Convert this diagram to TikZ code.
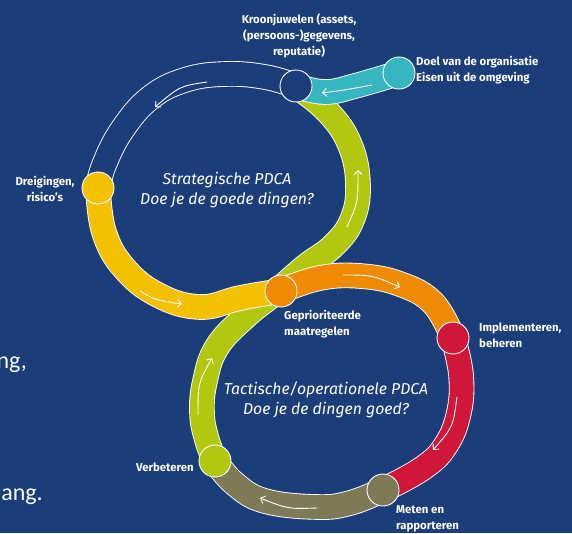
\documentclass[tikz,border=0pt]{standalone}
\usepackage{fontspec}
\setmainfont{Fira Sans}
\newfontfamily\carl{Carlito}
\usetikzlibrary{arrows.meta}
\definecolor{navy}{RGB}{27,62,123}
\definecolor{cyel}{RGB}{245,192,0}
\definecolor{clime}{RGB}{178,200,14}
\definecolor{cteal}{RGB}{54,182,192}
\definecolor{corange}{RGB}{240,138,0}
\definecolor{cred}{RGB}{208,23,58}
\definecolor{colive}{RGB}{126,122,88}
\newcommand\pdcaband[2]{\draw[white,line width=25.6pt] #2; \draw[#1,line width=23.8pt] #2;}
\begin{document}
\begin{tikzpicture}[x=1pt,y=-1pt,
  lab/.style={text=white, font=\fontsize{11.4}{16}\selectfont\bfseries, inner sep=0pt},
  pdca/.style={text=white, font=\fontsize{15.8}{20}\selectfont\itshape, align=center, inner sep=0pt},
  dot/.style={circle, draw=white, line width=0.9pt, minimum size=32pt, inner sep=0pt},
  flow/.style={draw=white, line width=0.9pt, -{Straight Barb[length=4pt,width=8pt]}},
  bg/.style={text=white, font=\carl\fontsize{24}{28}\selectfont, inner sep=0pt}
]
\fill[navy] (0,0) rectangle (572,533);
\useasboundingbox (0,0) rectangle (572,533);

\coordinate (kroon) at (296,86);
\coordinate (doel) at (399,73);
\coordinate (drei) at (98,188);
\coordinate (gepr) at (281,291);
\coordinate (impl) at (453,338);
\coordinate (meten) at (383,490);
\coordinate (verb) at (215,461);

% white outline band (kroon -> drei)
\pdcaband{navy}{plot[smooth,tension=0.7] coordinates {(kroon) (265,77) (225,74) (185,80) (150,98) (122,130) (104,165) (drei)}}
% green S band
\pdcaband{clime}{plot[smooth,tension=0.7] coordinates {(kroon) (328,112) (350,145) (358,185) (352,220) (333,246) (306,266) (276,292) (245,317) (217,347) (205,381) (202,413) (207,440) (verb)}}
% teal band
\pdcaband{cteal}{plot[smooth,tension=0.7] coordinates {(kroon) (325,92) (355,86) (doel)}}
% yellow band
\pdcaband{cyel}{plot[smooth,tension=0.7] coordinates {(drei) (104,232) (124,268) (158,295) (200,307) (240,298) (gepr)}}
% orange band
\pdcaband{corange}{plot[smooth,tension=0.7] coordinates {(gepr) (320,278) (360,276) (400,284) (433,303) (impl)}}
% red band
\pdcaband{cred}{plot[smooth,tension=0.7] coordinates {(impl) (461,375) (459,412) (446,445) (423,468) (meten)}}
% olive band
\pdcaband{colive}{plot[smooth,tension=0.7] coordinates {(meten) (350,503) (317,507) (265,501) (235,484) (verb)}}

% direction arrows
\coordinate (a1s) at (207,82);  \coordinate (a1e) at (155,107);
\coordinate (a2s) at (372,85);  \coordinate (a2e) at (322,93);
\coordinate (a3s) at (347,227); \coordinate (a3e) at (358,170);
\coordinate (a4s) at (140,291); \coordinate (a4e) at (182,304);
\coordinate (a5s) at (343,275); \coordinate (a5e) at (400,287);
\coordinate (a6s) at (457,397); \coordinate (a6e) at (433,450);
\coordinate (a7s) at (317,508); \coordinate (a7e) at (260,498);
\coordinate (a8s) at (198,415); \coordinate (a8e) at (212,358);
\draw[flow] (a1s) .. controls (180,86) .. (a1e);
\draw[flow] (a2s) .. controls (345,90) .. (a2e);
\draw[flow] (a3s) .. controls (358,202) .. (a3e);
\draw[flow] (a4s) .. controls (155,300) .. (a4e);
\draw[flow] (a5s) .. controls (372,275) .. (a5e);
\draw[flow] (a6s) .. controls (453,427) .. (a6e);
\draw[flow] (a7s) .. controls (288,509) .. (a7e);
\draw[flow] (a8s) .. controls (198,383) .. (a8e);

% circles
\node[dot, fill=navy] (kroonC) at (kroon) {};
\node[dot, fill=cteal] (doelC) at (doel) {};
\node[dot, fill=cyel] (dreiC) at (drei) {};
\node[dot, fill=corange] (geprC) at (gepr) {};
\node[dot, fill=cred] (implC) at (impl) {};
\node[dot, fill=colive] (metenC) at (meten) {};
\node[dot, fill=clime] (verbC) at (verb) {};

% labels
\node[lab, align=center] (kroonT) at (299,36) {Kroonjuwelen (assets,\\(persoons-)gegevens,\\reputatie)};
\node[lab, align=left, anchor=west] (doelT) at (416,70) {Doel van de organisatie\\Eisen uit de omgeving};
\node[lab, align=center] (dreiT) at (45,189) {Dreigingen,\\risico’s};
\node[lab, align=left, anchor=west] (geprT) at (284,324) {Geprioriteerde\\maatregelen};
\node[lab, align=left, anchor=west] (implT) at (479,335) {Implementeren,\\beheren};
\node[lab, anchor=east] (verbT) at (194,467) {Verbeteren};
\node[lab, align=left, anchor=west] (metenT) at (396,519) {Meten en\\rapporteren};
\node[pdca] (strat) at (227,190) {Strategische PDCA\\Doe je de goede dingen?};
\node[pdca] (tact) at (326,400) {Tactische/operationele PDCA\\Doe je de dingen goed?};
\node[bg, anchor=base east] (bg1) at (27,368) {ng,};
\node[bg, anchor=base east] (bg2) at (43,500) {ang.};
\end{tikzpicture}
\end{document}
